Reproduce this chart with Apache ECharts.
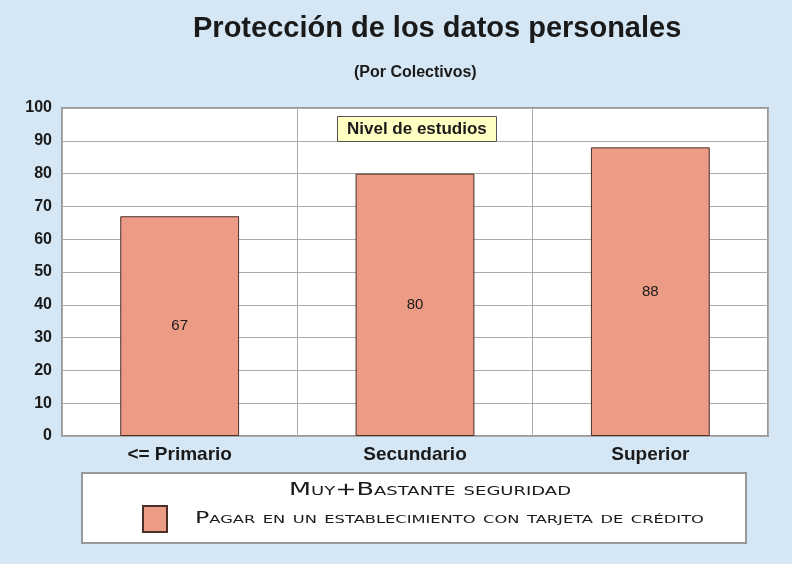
<!DOCTYPE html>
<html>
<head>
<meta charset="utf-8">
<script src="https://cdn.jsdelivr.net/npm/echarts@6/dist/echarts.min.js"></script>
<style>
    html, body { margin: 0; padding: 0; background: #d5e7f5; }
    #chart { width: 792px; height: 564px; }
</style>
</head>
<body>
<div id="chart"></div>
<script>
// datos del grafico
var categories = ["<= Primario", "Secundario", "Superior"];
var values = [67, 80, 88];
var seriesName = "Pagar en un establecimiento con tarjeta de crédito";
var legendTitle = "Muy+Bastante seguridad";

var myChart = echarts.init(document.getElementById("chart"));

// texto de la leyenda en versalitas, ensanchado como en el original
var smallCaps = {
    fontFamily: "DejaVu Sans",
    fontStyle: "small-caps",
    fill: "#1a1a1a",
    verticalAlign: "middle"
};

var option = {
    backgroundColor: "#d5e7f5",
    textStyle: { fontFamily: "Liberation Sans, Arial, sans-serif" },
    title: [
        {
            text: "Protección de los datos personales",
            left: 188,
            top: 9,
            textStyle: { fontSize: 29, fontWeight: "bold", color: "#1a1a1a" }
        },
        {
            text: "(Por Colectivos)",
            left: 349,
            top: 60,
            textStyle: { fontSize: 16, fontWeight: "bold", color: "#1a1a1a" }
        },
        {
            text: "Nivel de estudios",
            left: 337,
            top: 116,
            padding: [5, 10, 4, 10],
            backgroundColor: "#ffffc4",
            borderColor: "#555",
            borderWidth: 1,
            textStyle: { fontSize: 17, fontWeight: "bold", color: "#1a1a1a" }
        }
    ],
    graphic: [
        {
            type: "rect",
            z: -1,
            shape: { x: 82, y: 473, width: 664, height: 70 },
            style: { fill: "#fff", stroke: "#999", lineWidth: 2 }
        },
        {
            type: "text",
            x: 430,
            y: 491,
            scaleX: 1.5,
            style: Object.assign({ text: legendTitle, fontSize: 17, align: "center" }, smallCaps)
        },
        {
            type: "text",
            x: 195,
            y: 519,
            scaleX: 1.48,
            style: Object.assign({ text: seriesName, fontSize: 16, align: "left" }, smallCaps)
        }
    ],
    legend: {
        left: 142,
        top: 505,
        padding: 0,
        itemWidth: 24,
        itemHeight: 26,
        icon: "rect",
        data: [seriesName],
        formatter: function () {
            return "";
        }
    },
    grid: {
        left: 62,
        right: 24,
        top: 108,
        bottom: 128,
        show: true,
        backgroundColor: "#fff",
        borderColor: "#999",
        borderWidth: 2
    },
    xAxis: {
        type: "category",
        data: categories,
        axisLine: { show: false },
        axisTick: { show: false },
        axisLabel: {
            fontSize: 19,
            fontWeight: "bold",
            color: "#1a1a1a",
            margin: 9
        },
        splitLine: { show: true, lineStyle: { color: "#aaa", width: 1 } }
    },
    yAxis: {
        type: "value",
        min: 0,
        max: 100,
        interval: 10,
        axisLine: { show: false },
        axisTick: { show: false },
        axisLabel: {
            fontSize: 16,
            fontWeight: "bold",
            color: "#1a1a1a",
            margin: 10
        },
        splitLine: { lineStyle: { color: "#aaa", width: 1 } }
    },
    series: [
        {
            name: seriesName,
            type: "bar",
            data: values,
            barWidth: "50.5%",
            itemStyle: {
                color: "#ec9b84",
                borderColor: "#4a2f28",
                borderWidth: 1
            },
            label: {
                show: true,
                position: "inside",
                fontSize: 15,
                color: "#1a1a1a"
            }
        }
    ]
};

myChart.setOption(option);
</script>
</body>
</html>
